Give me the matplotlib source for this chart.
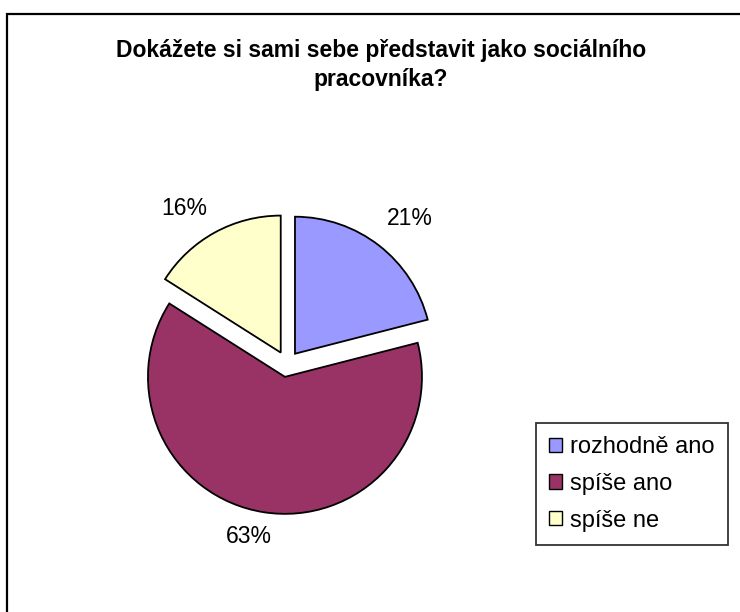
import numpy as np
import matplotlib
matplotlib.use("Agg")
import matplotlib.pyplot as plt
from matplotlib.patches import Rectangle

plt.rcParams["font.family"] = ["Liberation Sans", "DejaVu Sans"]

title = "Dokážete si sami sebe představit jako sociálního\npracovníka?"
categories = ["rozhodně ano", "spíše ano", "spíše ne"]
shares = [21, 63, 16]
colors = ["#9999FF", "#993366", "#FFFFCC"]

# small per-label nudges (data units) to mimic Excel's label placement
label_nudge = [(0.07, 0.0), (-0.07, 0.07), (-0.1, -0.04)]

W, H = 740, 612
fig = plt.figure(figsize=(W / 100, H / 100), dpi=100)

# outer chart frame (cut off on the right and bottom, as in the original)
fig.patches.append(Rectangle((7 / W, -0.05), 1.1, 1 - 14 / H + 0.05,
                             transform=fig.transFigure, fill=False,
                             edgecolor="black", lw=1.6, zorder=0))

R = 137  # pie radius in px
cx, cy = 287, H - 364
span = 1.4
ax = fig.add_axes([(cx - span * R) / W, (cy - span * R) / H,
                   2 * span * R / W, 2 * span * R / H])

wedges, texts, autotexts = ax.pie(
    shares, colors=colors, startangle=90, counterclock=False,
    explode=[0.095] * len(shares), autopct="%d%%", pctdistance=1.25,
    wedgeprops=dict(edgecolor="black", linewidth=1.3),
    textprops=dict(fontsize=16.5, color="black"))

for t, (dx, dy) in zip(autotexts, label_nudge):
    x, y = t.get_position()
    t.set_position((x + dx, y + dy))
    t.set_ha("center")
    t.set_va("center")

ax.set_xlim(-span, span)
ax.set_ylim(-span, span)
ax.set_aspect("equal")
ax.axis("off")

fig.text(381 / W, 1 - 39 / H, title, ha="center", va="top",
         fontsize=16.5, fontweight="bold", linespacing=1.33)

leg = fig.legend(wedges, categories, loc="upper left",
                 bbox_to_anchor=(536 / W, 1 - 423 / H),
                 fontsize=17, frameon=True, fancybox=False,
                 handlelength=0.55, handleheight=0.55, handletextpad=0.35,
                 labelspacing=0.63, borderpad=0.55, borderaxespad=0)
leg.get_frame().set_edgecolor("black")
leg.get_frame().set_linewidth(1.3)
for h in leg.legend_handles:
    h.set_linewidth(1.0)

fig.savefig("out.png", dpi=100)
